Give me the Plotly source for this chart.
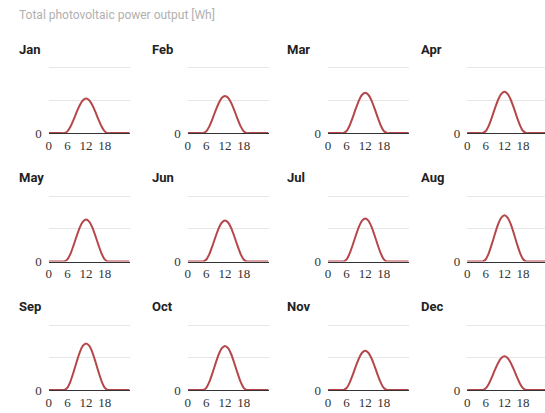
import plotly.graph_objects as go

W, H = 545, 413

months = ["Jan", "Feb", "Mar", "Apr", "May", "Jun",
          "Jul", "Aug", "Sep", "Oct", "Nov", "Dec"]
hours = list(range(27))
x_ticks = [0, 6, 12, 18]
subtitle = "Total photovoltaic power output [Wh]"

jan = [0, 0, 0, 0, 0, 0, 26, 100, 206, 324, 430, 504, 530, 504, 430, 324, 206, 100, 26, 0, 0, 0, 0, 0, 0, 0, 0]
feb = [0, 0, 0, 0, 0, 0, 28, 107, 222, 348, 463, 542, 570, 542, 463, 348, 222, 107, 28, 0, 0, 0, 0, 0, 0, 0, 0]
mar = [0, 0, 0, 0, 0, 0, 31, 117, 241, 379, 503, 589, 620, 589, 503, 379, 241, 117, 31, 0, 0, 0, 0, 0, 0, 0, 0]
apr = [0, 0, 0, 0, 0, 0, 31, 119, 247, 388, 516, 603, 635, 603, 516, 388, 247, 119, 31, 0, 0, 0, 0, 0, 0, 0, 0]
may = [0, 0, 0, 0, 0, 0, 32, 121, 251, 394, 524, 613, 645, 613, 524, 394, 251, 121, 32, 0, 0, 0, 0, 0, 0, 0, 0]
jun = [0, 0, 0, 0, 0, 0, 31, 118, 245, 385, 512, 599, 630, 599, 512, 385, 245, 118, 31, 0, 0, 0, 0, 0, 0, 0, 0]
jul = [0, 0, 0, 0, 0, 0, 33, 124, 257, 403, 536, 627, 660, 627, 536, 403, 257, 124, 33, 0, 0, 0, 0, 0, 0, 0, 0]
aug = [0, 0, 0, 0, 0, 0, 35, 133, 276, 434, 577, 675, 710, 675, 577, 434, 276, 133, 35, 0, 0, 0, 0, 0, 0, 0, 0]
sep = [0, 0, 0, 0, 0, 0, 36, 135, 280, 440, 585, 684, 720, 684, 585, 440, 280, 135, 36, 0, 0, 0, 0, 0, 0, 0, 0]
oct_ = [0, 0, 0, 0, 0, 0, 34, 128, 265, 415, 552, 646, 680, 646, 552, 415, 265, 128, 34, 0, 0, 0, 0, 0, 0, 0, 0]
nov = [0, 0, 0, 0, 0, 0, 30, 114, 235, 370, 491, 575, 605, 575, 491, 370, 235, 114, 30, 0, 0, 0, 0, 0, 0, 0, 0]
dec = [0, 0, 0, 0, 0, 0, 26, 98, 202, 318, 422, 494, 520, 494, 422, 318, 202, 98, 26, 0, 0, 0, 0, 0, 0, 0, 0]
series = [jan, feb, mar, apr, may, jun, jul, aug, sep, oct_, nov, dec]

# layout geometry (pixels)
col_x0 = [46, 185.7, 326.7, 466.7]
col_w = 81.3
x_span = 26
title_x = [14, 148.3, 283.3, 418.3]
row_top = [69.3, 200.3, 331.7]     # pixel row of the 1000 gridline
row_base = [135.7, 266.7, 397.7]   # pixel row of the zero baseline
title_y = [50, 181, 313]
Y_TOP = 1040

LINE = "#b5474b"
fig = go.Figure()
layout = dict(
    width=W, height=H, margin=dict(l=0, r=0, t=0, b=0),
    paper_bgcolor="white", plot_bgcolor="white", showlegend=False,
    annotations=[],
)

for i, (m, vals) in enumerate(zip(months, series)):
    r, c = divmod(i, 4)
    k = i + 1
    xs = "" if k == 1 else str(k)
    x0 = col_x0[c]
    x1 = min(x0 + col_w, W)
    xr = x_span * (x1 - x0) / col_w
    top_px = row_base[r] - (row_base[r] - row_top[r]) * Y_TOP / 1000
    fig.add_trace(go.Scatter(
        x=hours, y=vals, mode="lines",
        line=dict(color=LINE, width=2, shape="spline", smoothing=0.6),
        xaxis="x" + xs, yaxis="y" + xs, hoverinfo="skip"))
    layout["xaxis" + xs] = dict(
        domain=[x0 / W, x1 / W], anchor="y" + xs, range=[0, xr],
        tickvals=x_ticks, showgrid=False, zeroline=False,
        showline=True, linecolor="#333333", linewidth=1.2,
        ticks="", tickfont=dict(family="Liberation Serif", size=13, color="#333333"),
        fixedrange=True)
    layout["yaxis" + xs] = dict(
        domain=[1 - row_base[r] / H, 1 - top_px / H], anchor="x" + xs,
        range=[0, Y_TOP], tickvals=[0, 500, 1000], ticktext=["0", "", ""],
        showgrid=True, gridcolor="#e6e6e6", gridwidth=1, zeroline=False,
        showline=False, ticks="", ticklabelstandoff=6,
        tickfont=dict(family="Liberation Serif", size=13, color="#333333"),
        fixedrange=True)
    layout["annotations"].append(dict(
        text="<b>%s</b>" % m, x=title_x[c] / W, y=1 - title_y[r] / H,
        xref="paper", yref="paper", xanchor="left", yanchor="middle",
        showarrow=False, font=dict(family="Roboto, Arial", size=13, color="#222222")))

layout["annotations"].append(dict(
    text=subtitle, x=14 / W, y=1 - 15.5 / H, xref="paper", yref="paper",
    xanchor="left", yanchor="middle", showarrow=False,
    font=dict(family="Roboto, Arial", size=12, color="#b0b0b0")))

fig.update_layout(**layout)
fig.write_html("out.html", config={"displayModeBar": False},
               post_script="document.body.style.margin='0px';document.body.style.overflow='hidden';")
